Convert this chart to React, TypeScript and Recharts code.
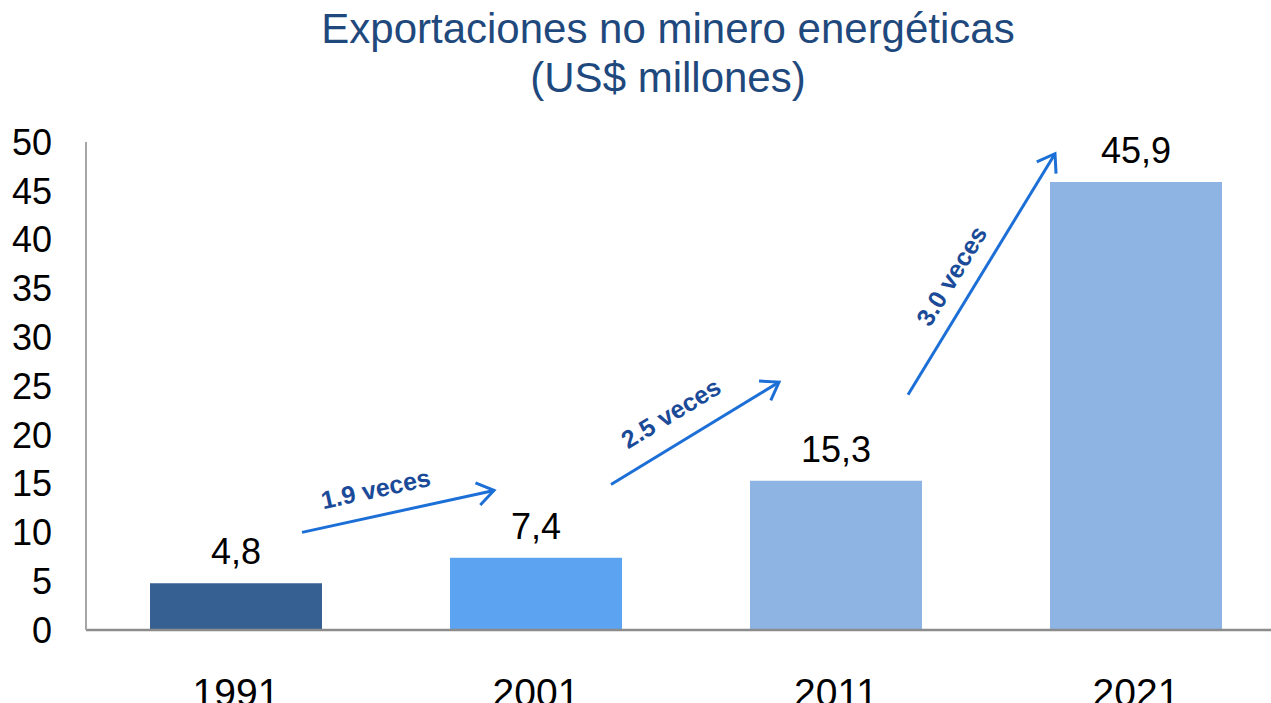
import { Bar, BarChart, Cell, LabelList, ReferenceLine, XAxis, YAxis } from 'recharts'

const YEARS = ['1991', '2001', '2011', '2021']
const VALUES = [4.8, 7.4, 15.3, 45.9]
const BAR_COLORS = ['#376092', '#5CA4F2', '#8EB4E3', '#8EB4E3']
const Y_TICKS = [0, 5, 10, 15, 20, 25, 30, 35, 40, 45, 50]

// growth arrows, in (category index, value) units: start -> end
const ARROW_LABELS = ['1.9 veces', '2.5 veces', '3.0 veces']
const ARROW_X = [
  [0.72, 1.36],
  [1.75, 2.31],
  [2.74, 3.23],
]
const ARROW_Y = [
  [10.0, 14.3],
  [14.9, 25.4],
  [24.1, 48.8],
]

const FONT = '"Liberation Sans", Arial, sans-serif'
const ARROW = '#1C6FD6'
const ARROW_TEXT = '#1B4B98'
const TITLE = '#1F497D'

// pos = centre of each category band, in band units
const data = YEARS.map((year, i) => ({ year, value: VALUES[i], pos: i + 0.5 }))

function arrowShape(label: string, perp: number, along: number) {
  return (p: any) => {
    const { x1, y1, x2, y2 } = p
    const dx = x2 - x1
    const dy = y2 - y1
    const len = Math.hypot(dx, dy)
    const ux = dx / len
    const uy = dy / len
    const ang = (Math.atan2(dy, dx) * 180) / Math.PI
    const head = 20
    const spread = 0.6
    const back = Math.atan2(-dy, -dx)
    const h1 = { x: x2 + head * Math.cos(back + spread), y: y2 + head * Math.sin(back + spread) }
    const h2 = { x: x2 + head * Math.cos(back - spread), y: y2 + head * Math.sin(back - spread) }
    // normal pointing up-left
    const nx = uy
    const ny = -ux
    const cx = (x1 + x2) / 2 + nx * perp + ux * along
    const cy = (y1 + y2) / 2 + ny * perp + uy * along
    return (
      <g>
        <line x1={x1} y1={y1} x2={x2} y2={y2} stroke={ARROW} strokeWidth={3} />
        <polyline
          points={`${h1.x},${h1.y} ${x2},${y2} ${h2.x},${h2.y}`}
          fill="none"
          stroke={ARROW}
          strokeWidth={3}
        />
        <text
          x={cx}
          y={cy}
          transform={`rotate(${ang} ${cx} ${cy})`}
          textAnchor="middle"
          dominantBaseline="central"
          fontFamily={FONT}
          fontWeight="bold"
          fontSize={25}
          fill={ARROW_TEXT}
        >
          {label}
        </text>
      </g>
    )
  }
}

const LABEL_OFFSETS = [
  [27, -17],
  [30, -10],
  [25, -17],
]

export default function App() {
  return (
    <div style={{ position: 'absolute', left: 0, top: 0, width: 1271, height: 703, overflow: 'hidden', background: '#fff' }}>
      <div
        style={{
          position: 'absolute',
          left: 0,
          top: 4,
          width: 1336,
          textAlign: 'center',
          fontFamily: FONT,
          fontSize: 42,
          lineHeight: '49px',
          color: TITLE,
        }}
      >
        Exportaciones no minero energéticas
        <br />
        (US$ millones)
      </div>
      <BarChart
        width={1286}
        height={703}
        data={data}
        margin={{ top: 142, right: 0, bottom: 0, left: 0 }}
        barCategoryGap={64}
        style={{ position: 'absolute', left: 0, top: 0 }}
      >
        <XAxis
          dataKey="year"
          height={73}
          axisLine={{ stroke: '#8C8C8C', strokeWidth: 2.5 }}
          tickLine={false}
          tickSize={0}
          tickMargin={48}
          tick={{ fontFamily: FONT, fontSize: 39, fill: '#000' }}
        />
        <XAxis xAxisId="n" dataKey="pos" type="number" domain={[0, 4]} allowDataOverflow hide />
        <YAxis
          domain={[0, 50]}
          ticks={Y_TICKS}
          width={86}
          interval={0}
          axisLine={{ stroke: '#A6A6A6', strokeWidth: 2 }}
          tickLine={false}
          tickSize={0}
          tickMargin={34}
          tick={{ fontFamily: FONT, fontSize: 36, fill: '#000' }}
        />
        <Bar dataKey="value" barSize={172} isAnimationActive={false}>
          {data.map((d, i) => (
            <Cell key={d.year} fill={BAR_COLORS[i]} />
          ))}
          <LabelList
            dataKey="value"
            position="top"
            offset={19}
            formatter={(v: any) => String(v).replace('.', ',')}
            style={{ fontFamily: FONT, fontSize: 36, fill: '#000' }}
          />
        </Bar>
        {ARROW_LABELS.map((label, i) => (
          <ReferenceLine
            key={label}
            xAxisId="n"
            segment={[
              { x: ARROW_X[i][0], y: ARROW_Y[i][0] },
              { x: ARROW_X[i][1], y: ARROW_Y[i][1] },
            ]}
            ifOverflow="visible"
            shape={arrowShape(label, LABEL_OFFSETS[i][0], LABEL_OFFSETS[i][1])}
          />
        ))}
      </BarChart>
    </div>
  )
}
